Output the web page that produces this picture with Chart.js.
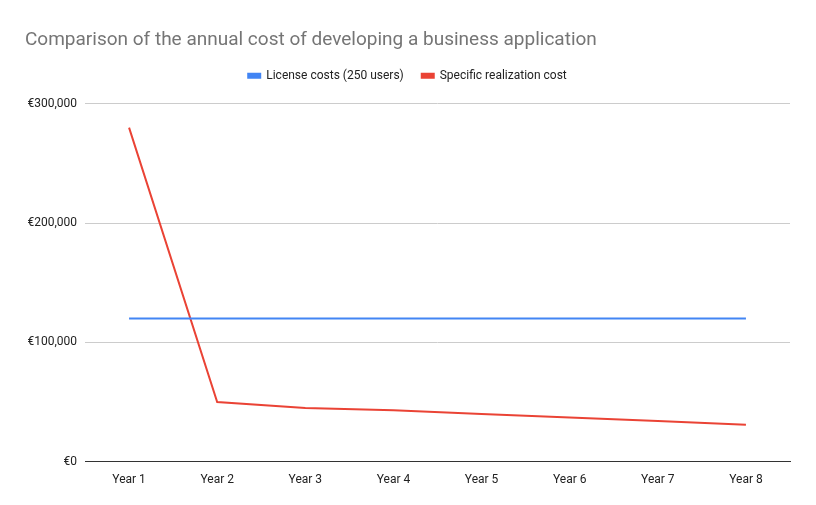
<!DOCTYPE html>
<html>
<head>
<meta charset="utf-8">
<script src="https://cdn.jsdelivr.net/npm/chart.js@4"></script>
<style>
  html, body { margin: 0; padding: 0; background: #fff; }
  #wrap { width: 816px; height: 505px; position: relative; }
</style>
</head>
<body>
<div id="wrap"><canvas id="costChart"></canvas></div>
<script>
const years = ['Year 1', 'Year 2', 'Year 3', 'Year 4', 'Year 5', 'Year 6', 'Year 7', 'Year 8'];
const licenseCosts = [120000, 120000, 120000, 120000, 120000, 120000, 120000, 120000];
const realizationCosts = [280000, 50000, 45000, 43000, 40000, 37000, 34000, 31000];
const yTicks = [0, 100000, 200000, 300000];

// extra space under the legend
const legendGap = {
    id: 'legendGap',
    beforeInit(chart) {
        const origFit = chart.legend.fit;
        chart.legend.fit = function() {
            origFit.bind(chart.legend)();
            this.height += 12;
        };
    }
};

const ctx = document.getElementById('costChart').getContext('2d');
new Chart(ctx, {
    type: 'line',
    data: {
        labels: years,
        datasets: [{
            label: 'License costs (250 users)',
            data: licenseCosts,
            borderColor: '#4285F4',
            backgroundColor: '#4285F4',
            borderWidth: 2,
            pointRadius: 0,
            tension: 0
        }, {
            label: 'Specific realization cost',
            data: realizationCosts,
            borderColor: '#EA4335',
            backgroundColor: '#EA4335',
            borderWidth: 2,
            pointRadius: 0,
            tension: 0
        }]
    },
    plugins: [legendGap],
    options: {
        responsive: true,
        maintainAspectRatio: false,
        animation: false,
        layout: { padding: { left: 25, right: 26, top: 10, bottom: 15 } },
        plugins: {
            title: {
                display: true,
                text: 'Comparison of the annual cost of developing a business application',
                align: 'start',
                color: '#757575',
                font: { family: 'Roboto', size: 19, weight: 'normal' },
                padding: { top: 19, bottom: 0 }
            },
            legend: {
                position: 'top',
                labels: {
                    color: '#222',
                    font: { family: 'Roboto', size: 12 },
                    boxWidth: 12,
                    boxHeight: 4,
                    padding: 18
                }
            },
            tooltip: { enabled: false }
        },
        scales: {
            x: {
                offset: true,
                grid: { display: false },
                border: { color: '#333' },
                ticks: { color: '#222', font: { family: 'Roboto', size: 12 } }
            },
            y: {
                min: 0,
                max: 300000,
                afterBuildTicks: axis => { axis.ticks = yTicks.map(v => ({ value: v })); },
                afterFit: axis => { axis.width = 60; },
                grid: { color: '#cccccc', drawTicks: false },
                border: { display: false },
                ticks: {
                    color: '#222',
                    padding: 8,
                    font: { family: 'Roboto', size: 12 },
                    callback: v => '€' + v.toLocaleString('en-US')
                }
            }
        }
    }
});
</script>
</body>
</html>
